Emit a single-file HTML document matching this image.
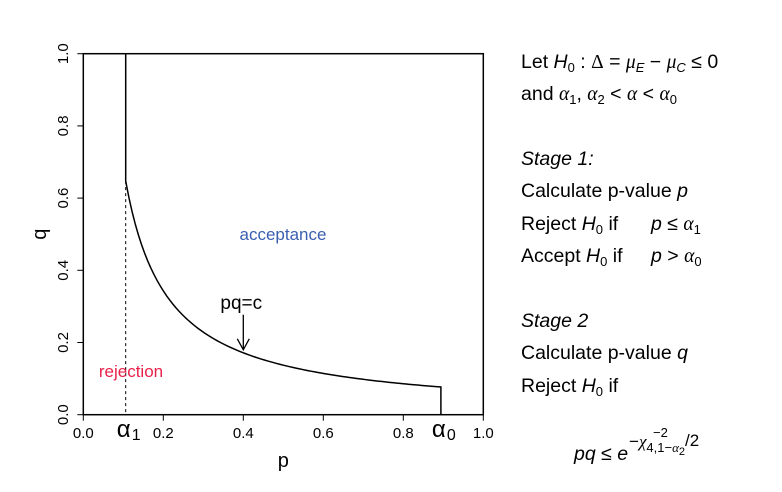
<!DOCTYPE html>
<html><head><meta charset="utf-8"><style>
body{margin:0;background:#fff}
svg{display:block;font-family:"Liberation Sans",sans-serif}
</style></head><body>
<svg id="chart" width="782" height="492" viewBox="0 0 782 492" xmlns="http://www.w3.org/2000/svg">
<g id="plot"></g>
<g font-size="19.5" fill="#000">
<text x="521" y="68">Let <tspan font-style="italic">H</tspan><tspan font-size="13" dy="4">0</tspan><tspan dy="-4"> : </tspan><tspan font-family="Liberation Serif">Δ</tspan> = <tspan font-style="italic" font-family="Liberation Serif">μ</tspan><tspan font-size="13" font-style="italic" dy="4">E</tspan><tspan dy="-4"> − </tspan><tspan font-style="italic" font-family="Liberation Serif">μ</tspan><tspan font-size="13" font-style="italic" dy="4">C</tspan><tspan dy="-4"> ≤ 0</tspan></text>
<text x="521" y="100">and <tspan font-style="italic" font-family="Liberation Serif">α</tspan><tspan font-size="13" dy="4">1</tspan><tspan dy="-4">, </tspan><tspan font-style="italic" font-family="Liberation Serif">α</tspan><tspan font-size="13" dy="4">2</tspan><tspan dy="-4"> &lt; </tspan><tspan font-style="italic" font-family="Liberation Serif">α</tspan> &lt; <tspan font-style="italic" font-family="Liberation Serif">α</tspan><tspan font-size="13" dy="4">0</tspan></text>
<text x="521" y="165" font-style="italic">Stage 1:</text>
<text x="521" y="197">Calculate p-value <tspan font-style="italic">p</tspan></text>
<text x="521" y="230">Reject <tspan font-style="italic">H</tspan><tspan font-size="13" dy="4">0</tspan><tspan dy="-4"> if</tspan></text>
<text x="651" y="230"><tspan font-style="italic">p</tspan> ≤ <tspan font-style="italic" font-family="Liberation Serif">α</tspan><tspan font-size="13" dy="4">1</tspan></text>
<text x="521" y="262">Accept <tspan font-style="italic">H</tspan><tspan font-size="13" dy="4">0</tspan><tspan dy="-4"> if</tspan></text>
<text x="651" y="262"><tspan font-style="italic">p</tspan> &gt; <tspan font-style="italic" font-family="Liberation Serif">α</tspan><tspan font-size="13" dy="4">0</tspan></text>
<text x="521" y="327" font-style="italic">Stage 2</text>
<text x="521" y="359">Calculate p-value <tspan font-style="italic">q</tspan></text>
<text x="521" y="392">Reject <tspan font-style="italic">H</tspan><tspan font-size="13" dy="4">0</tspan><tspan dy="-4"> if</tspan></text>
<text x="574" y="460"><tspan font-style="italic">pq</tspan> ≤ <tspan font-style="italic">e</tspan></text>
<text x="629" y="447" font-size="17">−<tspan font-style="italic" font-family="Liberation Serif">χ</tspan><tspan font-size="13" dy="5">4,1−</tspan><tspan font-size="13" font-style="italic" font-family="Liberation Serif">α</tspan><tspan font-size="11" dy="3">2</tspan><tspan font-size="17" dy="-9">/2</tspan></text>
<text x="653" y="437" font-size="13">−2</text>
</g>
</svg>
<script>
const xTicks=[0,0.2,0.4,0.6,0.8,1.0];
const xTickLabels=["0.0","0.2","0.4","0.6","0.8","1.0"];
const yTicks=[0,0.2,0.4,0.6,0.8,1.0];
const yTickLabels=["0.0","0.2","0.4","0.6","0.8","1.0"];
const alpha1=0.106;
const alpha0=0.894;
const cValue=0.0686;
const arrowP=[0.4];
const NS="http://www.w3.org/2000/svg";
const X=p=>83.3+p*400, Y=q=>414.7-q*361;
const g=document.getElementById('plot');
function mk(t,a,txt){const e=document.createElementNS(NS,t);for(const k in a)e.setAttribute(k,a[k]);if(txt!=null)e.textContent=txt;g.appendChild(e);return e;}
const box=mk('rect',{x:X(0),y:Y(1),width:X(1)-X(0),height:Y(0)-Y(1),fill:'none',stroke:'#000','stroke-width':1.5});


xTicks.forEach((v,i)=>{
 const t=mk('line',{x1:X(v),x2:X(v),y1:Y(0),y2:Y(0)+6,stroke:'#000'});
 
 
 const l=mk('text',{x:X(v),y:438,'font-size':15,'text-anchor':'middle'},xTickLabels[i]);
 
 
});
yTicks.forEach((v,i)=>{
 const t=mk('line',{x1:X(0)-6,x2:X(0),y1:Y(v),y2:Y(v),stroke:'#000'});
 
 
 const l=mk('text',{x:0,y:0,'font-size':15,'text-anchor':'middle',transform:`translate(68,${Y(v)}) rotate(-90)`},yTickLabels[i]);
 
 
});
const xl=mk('text',{x:X(0.5),y:467,'font-size':20,'text-anchor':'middle'},'p');


const yl=mk('text',{x:0,y:0,'font-size':20,'text-anchor':'middle',transform:`translate(46,${Y(0.5)}) rotate(-90)`},'q');


const q1=cValue/alpha1;
let d=`M${X(alpha1)},${Y(1)} L${X(alpha1)},${Y(q1)}`;
for(let i=1;i<=100;i++){const p=alpha1+(alpha0-alpha1)*i/100;d+=` L${X(p)},${Y(cValue/p)}`;}
d+=` L${X(alpha0)},${Y(0)}`;
const bd=mk('path',{d,fill:'none',stroke:'#000','stroke-width':1.5});


const ds=mk('line',{x1:X(alpha1),x2:X(alpha1),y1:Y(q1),y2:Y(0),stroke:'#000','stroke-dasharray':'3,3'});


const a1=mk('text',{x:X(alpha1)-9,y:437,'font-size':24},'α');


mk('text',{x:X(alpha1)+6,y:440,'font-size':16},'1');
const a0=mk('text',{x:X(alpha0)-9,y:437,'font-size':24},'α');


mk('text',{x:X(alpha0)+6,y:440,'font-size':16},'0');
const ap=arrowP[0],ay=Y(cValue/ap);
const ar=mk('path',{d:`M${X(ap)},${ay-38} L${X(ap)},${ay-3} M${X(ap)-6},${ay-14} L${X(ap)},${ay-3} L${X(ap)+6},${ay-14}`,fill:'none',stroke:'#000','stroke-width':1.3});


const pl=mk('text',{x:X(ap)-2,y:ay-44,'font-size':19,'text-anchor':'middle'},'pq=c');


const acc=mk('text',{x:283,y:240,'font-size':17,'text-anchor':'middle',fill:'#3a5fb0'},'acceptance');


const rej=mk('text',{x:131,y:377,'font-size':17,'text-anchor':'middle',fill:'#e8224a'},'rejection');


</script>
</body></html>
